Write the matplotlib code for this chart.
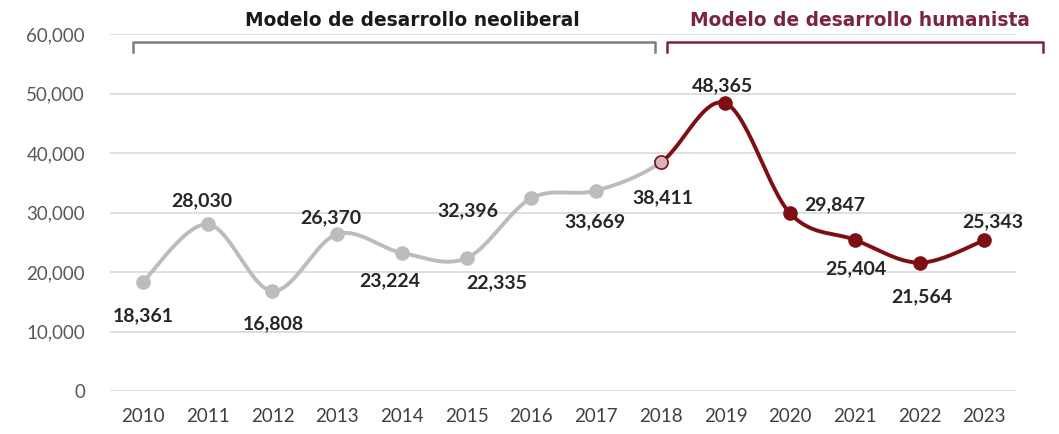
import numpy as np
import matplotlib
matplotlib.use("Agg")
import matplotlib.pyplot as plt

years = [2010, 2011, 2012, 2013, 2014, 2015, 2016, 2017, 2018, 2019, 2020, 2021, 2022, 2023]
values = [18361, 28030, 16808, 26370, 23224, 22335, 32396, 33669, 38411, 48365, 29847, 25404, 21564, 25343]
split_year = 2018
yticks = [0, 10000, 20000, 30000, 40000, 50000, 60000]

# label offsets in pixels (dx, dy) from each point
label_offsets = [(0, -34), (-6, 23), (1, -33), (-6, 16), (-12, -28), (30, -25), (-63, -13),
                 (-1, -31), (2, -35), (-3, 17), (45, 9), (1, -29), (2, -34), (8, 18)]

GRAY = "#bcbcbc"
MAROON = "#7d0f14"
TITLE_MAROON = "#7a2343"
num_font = ["Lato", "DejaVu Sans"]


def smooth(xs, ys, n=30):
    # Catmull-Rom style bezier through every point, like a spreadsheet smoothed line
    xs = np.asarray(xs, float)
    ys = np.asarray(ys, float)
    px = np.concatenate([[xs[0]], xs, [xs[-1]]])
    py = np.concatenate([[ys[0]], ys, [ys[-1]]])
    ox, oy = [], []
    t = np.linspace(0, 1, n)
    for i in range(1, len(px) - 2):
        p0 = np.array([px[i], py[i]])
        p3 = np.array([px[i + 1], py[i + 1]])
        c1 = p0 + (np.array([px[i + 1], py[i + 1]]) - np.array([px[i - 1], py[i - 1]])) / 6
        c2 = p3 - (np.array([px[i + 2], py[i + 2]]) - np.array([px[i], py[i]])) / 6
        b = ((1 - t) ** 3)[:, None] * p0 + (3 * (1 - t) ** 2 * t)[:, None] * c1 \
            + (3 * (1 - t) * t ** 2)[:, None] * c2 + (t ** 3)[:, None] * p3
        ox.extend(b[:, 0])
        oy.extend(b[:, 1])
    return np.array(ox), np.array(oy)


fig = plt.figure(figsize=(10.59, 4.34), dpi=100)
ax = fig.add_axes([110 / 1059, 43 / 434, (1016 - 110) / 1059, 357 / 434])

sx, sy = smooth(years, values)
old = sx <= split_year
ax.plot(sx[old], sy[old], color=GRAY, lw=2.8, solid_capstyle="round", zorder=3)
ax.plot(sx[~old], sy[~old], color=MAROON, lw=2.8, solid_capstyle="round", zorder=3)

for yr, v in zip(years, values):
    if yr < split_year:
        ax.plot(yr, v, "o", ms=9.5, color=GRAY, zorder=4)
    elif yr == split_year:
        ax.plot(yr, v, "o", ms=9.5, mfc="#d9b3bb", mec=MAROON, mew=1.2, zorder=4)
    else:
        ax.plot(yr, v, "o", ms=9.5, color=MAROON, zorder=4)

for yr, v, (dx, dy) in zip(years, values, label_offsets):
    ax.annotate(f"{v:,}", (yr, v), xytext=(dx, dy), textcoords="offset pixels",
                ha="center", va="center", fontsize=14, fontweight="bold",
                color="#262626", family=num_font, zorder=5)

ax.set_xlim(2009.49, 2023.49)
ax.set_ylim(0, 60000)
ax.set_yticks(yticks)
ax.set_yticklabels([f"{t:,}" for t in yticks], family=num_font, fontsize=13.5, color="#595959")
ax.set_xticks(years)
ax.set_xticklabels([str(y) for y in years], family=num_font, fontsize=13.5, color="#404040")
ax.tick_params(length=0, pad=12)
ax.tick_params(axis="y", pad=18)
ax.grid(axis="y", color="#d9d9d9", lw=1.2)
ax.set_axisbelow(True)
for s in ax.spines.values():
    s.set_visible(False)

# period brackets and headings above the plot
def bracket(x0, x1, color):
    y_top = 1 - 42 / 434
    y_bot = 1 - 52 / 434
    fig.add_artist(plt.Line2D([x0 / 1059, x0 / 1059, x1 / 1059, x1 / 1059],
                              [y_bot, y_top, y_top, y_bot], color=color, lw=1.8))

bracket(133, 655, "#7f7f7f")
bracket(667, 1043, TITLE_MAROON)
fig.text(412 / 1059, 1 - 21 / 434, "Modelo de desarrollo neoliberal", ha="center", va="center",
         fontsize=13.4, fontweight="bold", color="#1a1a1a", family="DejaVu Sans")
fig.text(860 / 1059, 1 - 21 / 434, "Modelo de desarrollo humanista", ha="center", va="center",
         fontsize=13.4, fontweight="bold", color=TITLE_MAROON, family="DejaVu Sans")

fig.savefig("out.png", dpi=100, facecolor="white")
